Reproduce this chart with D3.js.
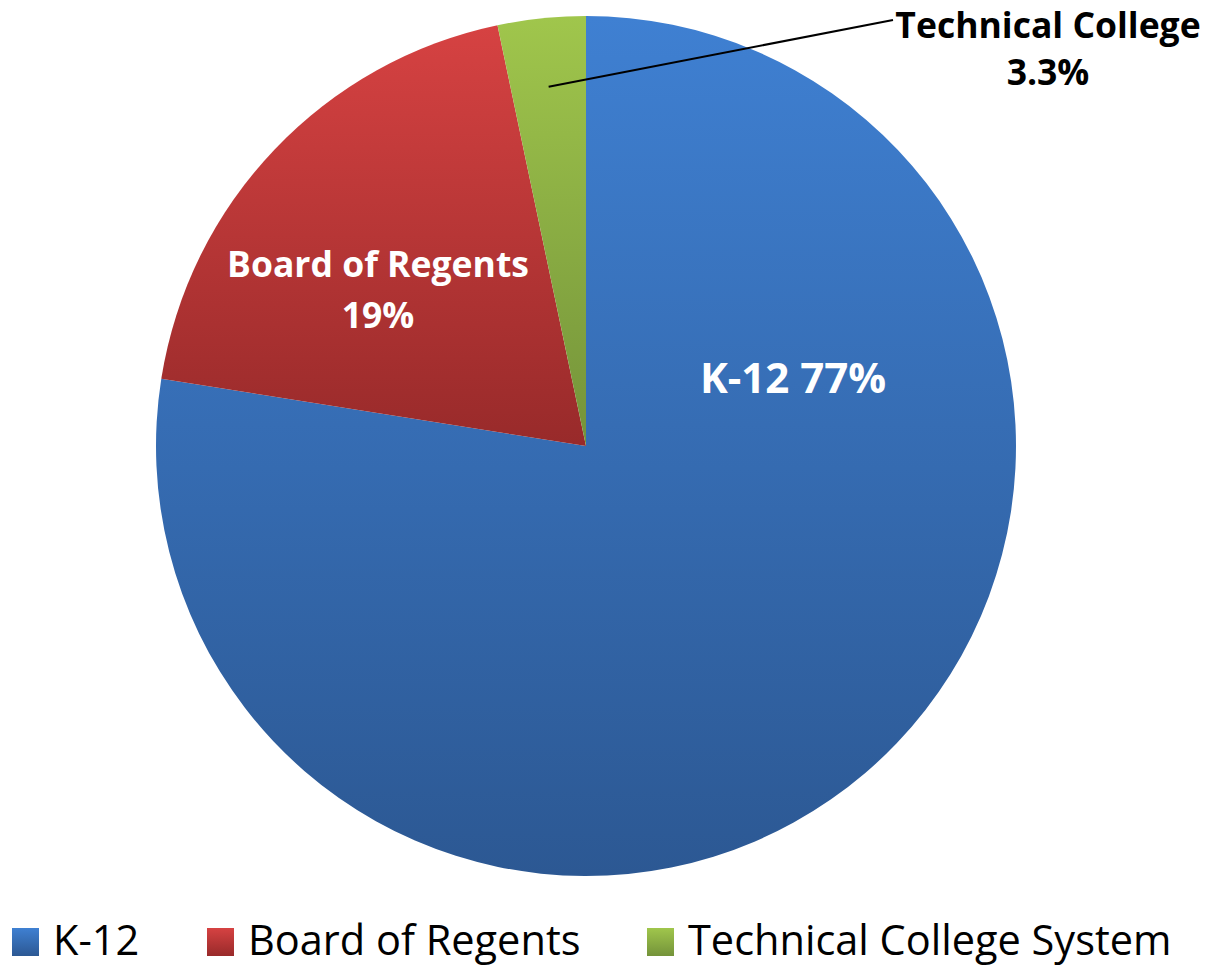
<!DOCTYPE html>
<html lang="en">
<head>
  <meta charset="UTF-8">
  <title>Education funding share</title>
  <script src="https://d3js.org/d3.v7.min.js"></script>
  <style>
    body { margin: 0; background: #fff; }
    svg { display: block; }
    text { font-family: "Open Sans", sans-serif; }
  </style>
</head>
<body>
  <svg width="1208" height="966"></svg>
  <script>
    const categories = ["K-12", "Board of Regents", "Technical College System"];
    const values = [77.5, 19.2, 3.3];
    const sliceLabels = [["K-12 77%"], ["Board of Regents", "19%"], ["Technical College", "3.3%"]];
    const colorsTop = ["#3f80d2", "#d64242", "#a0c64c"];
    const colorsBottom = ["#2c5893", "#982a2a", "#74933a"];

    const svg = d3.select("svg");
    const cx = 586, cy = 446, r = 430;

    const defs = svg.append("defs");
    categories.forEach((c, i) => {
      const g = defs.append("linearGradient")
        .attr("id", "grad" + i)
        .attr("x1", 0).attr("y1", 0).attr("x2", 0).attr("y2", 1);
      g.append("stop").attr("offset", "0%").attr("stop-color", colorsTop[i]);
      g.append("stop").attr("offset", "100%").attr("stop-color", colorsBottom[i]);
    });

    const pie = d3.pie().sort(null).value(d => d);
    const arcs = pie(values);
    const arc = d3.arc().innerRadius(0).outerRadius(r);

    const g = svg.append("g").attr("transform", `translate(${cx},${cy})`);
    g.selectAll("path")
      .data(arcs)
      .join("path")
      .attr("d", arc)
      .attr("fill", (d, i) => `url(#grad${i})`);

    // inside labels
    const insidePos = [[207, -53], [-208, -169]];
    const insideSize = [42, 35.5];
    [0, 1].forEach(i => {
      const t = g.append("text")
        .attr("text-anchor", "middle")
        .attr("fill", "#fff")
        .attr("font-weight", "bold")
        .attr("font-size", insideSize[i]);
      sliceLabels[i].forEach((line, j) => {
        t.append("tspan")
          .attr("x", insidePos[i][0])
          .attr("y", insidePos[i][1] + j * 51)
          .text(line);
      });
    });

    // outside label with leader line
    const techArc = arcs[2];
    const inner = d3.arc().innerRadius(r * 0.84).outerRadius(r * 0.84).centroid(techArc);
    g.append("line")
      .attr("x1", inner[0]).attr("y1", inner[1])
      .attr("x2", 893 - cx).attr("y2", 20 - cy)
      .attr("stroke", "#000")
      .attr("stroke-width", 2);
    const tt = g.append("text")
      .attr("text-anchor", "middle")
      .attr("fill", "#000")
      .attr("font-weight", "bold")
      .attr("font-size", 35.5);
    sliceLabels[2].forEach((line, j) => {
      tt.append("tspan")
        .attr("x", 1048 - cx)
        .attr("y", 38 - cy + j * 47)
        .text(line);
    });

    // legend
    const legendX = [12, 207, 647];
    const legend = svg.append("g");
    categories.forEach((c, i) => {
      legend.append("rect")
        .attr("x", legendX[i]).attr("y", 928)
        .attr("width", 27).attr("height", 28)
        .attr("fill", `url(#grad${i})`);
      legend.append("text")
        .attr("x", legendX[i] + 41).attr("y", 955)
        .attr("font-size", 41.5)
        .attr("fill", "#000")
        .text(c);
    });
  </script>
</body>
</html>
